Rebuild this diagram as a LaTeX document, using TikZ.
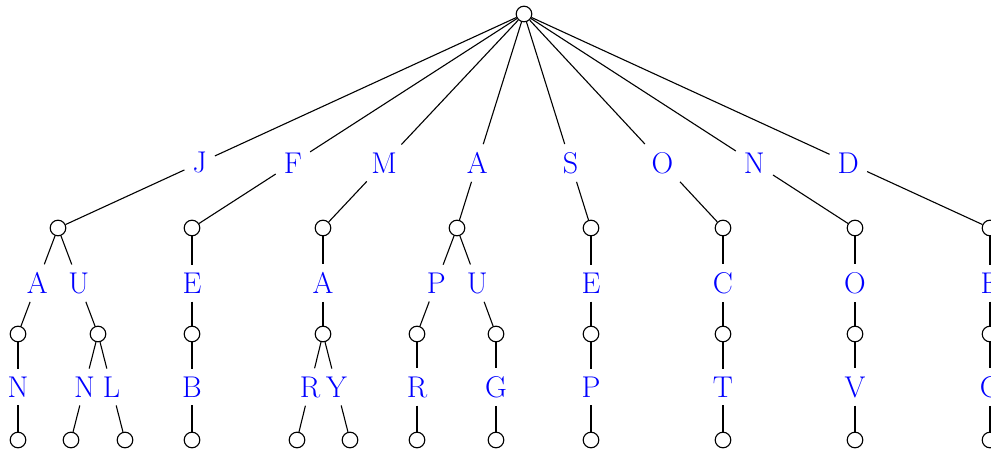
\documentclass[tikz,border=0pt]{standalone}
\usetikzlibrary{calc}
\tikzset{
  v/.style={circle,draw,minimum size=15.6pt,inner sep=0pt,line width=1.1pt},
  lab/.style={text=blue,font=\fontsize{30}{36}\selectfont,inner sep=8pt},
  conn/.style={line width=1.1pt}
}
\newcommand\trieedge[4]{%
  \node[lab] (L#2) at ($(#1)!#4!(#2)$) {#3};
  \draw[conn] (#1) -- (L#2) -- (#2);}
\begin{document}
\begin{tikzpicture}[x=1pt,y=-1pt]
\useasboundingbox (0,0) rectangle (991,450);
% root
\node[v] (r) at (524,14) {};
% level 1
\node[v] (nJ) at (58,228) {};
\node[v] (nF) at (192,228) {};
\node[v] (nM) at (323,228) {};
\node[v] (nA) at (457,228) {};
\node[v] (nS) at (591,228) {};
\node[v] (nO) at (723,228) {};
\node[v] (nN) at (855,228) {};
\node[v] (nD) at (990,228) {};
% level 2
\node[v] (nJA) at (18,334) {};
\node[v] (nJU) at (98,334) {};
\node[v] (nFE) at (192,334) {};
\node[v] (nMA) at (323,334) {};
\node[v] (nAP) at (417,334) {};
\node[v] (nAU) at (496,334) {};
\node[v] (nSE) at (591,334) {};
\node[v] (nOC) at (723,334) {};
\node[v] (nNO) at (855,334) {};
\node[v] (nDE) at (990,334) {};
% level 3
\node[v] (nJAN) at (18,440) {};
\node[v] (nJUN) at (71,440) {};
\node[v] (nJUL) at (125,440) {};
\node[v] (nFEB) at (192,440) {};
\node[v] (nMAR) at (297,440) {};
\node[v] (nMAY) at (350,440) {};
\node[v] (nAPR) at (417,440) {};
\node[v] (nAUG) at (496,440) {};
\node[v] (nSEP) at (591,440) {};
\node[v] (nOCT) at (723,440) {};
\node[v] (nNOV) at (855,440) {};
\node[v] (nDEC) at (990,440) {};
% edges level 1
\trieedge{r}{nJ}{J}{0.696}
\trieedge{r}{nF}{F}{0.696}
\trieedge{r}{nM}{M}{0.696}
\trieedge{r}{nA}{A}{0.696}
\trieedge{r}{nS}{S}{0.696}
\trieedge{r}{nO}{O}{0.696}
\trieedge{r}{nN}{N}{0.696}
\trieedge{r}{nD}{D}{0.696}
% edges level 2
\trieedge{nJ}{nJA}{A}{0.52}
\trieedge{nJ}{nJU}{U}{0.52}
\trieedge{nF}{nFE}{E}{0.52}
\trieedge{nM}{nMA}{A}{0.52}
\trieedge{nA}{nAP}{P}{0.52}
\trieedge{nA}{nAU}{U}{0.52}
\trieedge{nS}{nSE}{E}{0.52}
\trieedge{nO}{nOC}{C}{0.52}
\trieedge{nN}{nNO}{O}{0.52}
\trieedge{nD}{nDE}{E}{0.52}
% edges level 3
\trieedge{nJA}{nJAN}{N}{0.5}
\trieedge{nJU}{nJUN}{N}{0.5}
\trieedge{nJU}{nJUL}{L}{0.5}
\trieedge{nFE}{nFEB}{B}{0.5}
\trieedge{nMA}{nMAR}{R}{0.5}
\trieedge{nMA}{nMAY}{Y}{0.5}
\trieedge{nAP}{nAPR}{R}{0.5}
\trieedge{nAU}{nAUG}{G}{0.5}
\trieedge{nSE}{nSEP}{P}{0.5}
\trieedge{nOC}{nOCT}{T}{0.5}
\trieedge{nNO}{nNOV}{V}{0.5}
\trieedge{nDE}{nDEC}{C}{0.5}
\end{tikzpicture}
\end{document}
